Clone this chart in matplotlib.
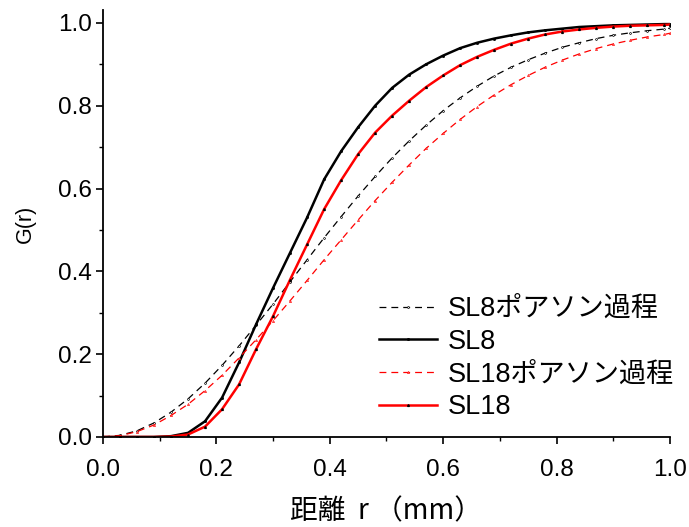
import numpy as np
import matplotlib
matplotlib.use("Agg")
import matplotlib.pyplot as plt
from matplotlib.ticker import MultipleLocator, FormatStrFormatter

plt.rcParams['font.family'] = ['Liberation Sans', 'Noto Sans CJK JP', 'DejaVu Sans']

# distance r (mm), sampled every 0.03 mm plus the end point
r = [0.00, 0.03, 0.06, 0.09, 0.12, 0.15, 0.18, 0.21, 0.24, 0.27, 0.30,
     0.33, 0.36, 0.39, 0.42, 0.45, 0.48, 0.51, 0.54, 0.57, 0.60, 0.63,
     0.66, 0.69, 0.72, 0.75, 0.78, 0.81, 0.84, 0.87, 0.90, 0.93, 0.96,
     0.99, 1.00]

sl8_poisson = [0.000, 0.004, 0.015, 0.034, 0.060, 0.092, 0.130, 0.173, 0.220,
               0.270, 0.321, 0.375, 0.428, 0.481, 0.532, 0.582, 0.629, 0.674,
               0.715, 0.753, 0.788, 0.819, 0.847, 0.872, 0.893, 0.911, 0.927,
               0.941, 0.952, 0.962, 0.970, 0.976, 0.981, 0.985, 0.987]

sl8 = [0.000, 0.000, 0.000, 0.000, 0.002, 0.010, 0.038, 0.095, 0.180, 0.272,
       0.360, 0.445, 0.530, 0.622, 0.690, 0.748, 0.800, 0.843, 0.875, 0.900,
       0.921, 0.939, 0.952, 0.962, 0.970, 0.977, 0.982, 0.986, 0.990, 0.992,
       0.994, 0.995, 0.996, 0.997, 0.997]

sl18_poisson = [0.000, 0.003, 0.013, 0.029, 0.052, 0.079, 0.112, 0.149, 0.191,
                0.235, 0.281, 0.329, 0.378, 0.428, 0.476, 0.524, 0.571, 0.615,
                0.657, 0.697, 0.733, 0.767, 0.798, 0.826, 0.851, 0.873, 0.893,
                0.910, 0.925, 0.938, 0.949, 0.958, 0.966, 0.972, 0.975]

sl18 = [0.000, 0.000, 0.000, 0.000, 0.001, 0.006, 0.025, 0.067, 0.127, 0.212,
        0.292, 0.380, 0.465, 0.550, 0.620, 0.683, 0.735, 0.776, 0.812, 0.845,
        0.873, 0.898, 0.918, 0.935, 0.950, 0.962, 0.972, 0.979, 0.984, 0.988,
        0.991, 0.993, 0.994, 0.995, 0.996]

labels = ["SL8ポアソン過程", "SL8", "SL18ポアソン過程", "SL18"]

fig = plt.figure(figsize=(6.89, 5.27), dpi=100)
ax = fig.add_axes([0.1495, 0.1708, 0.8229, 0.8102])

dash = (0, (5.5, 4))
ax.plot(r, sl8_poisson, color="black", lw=0.9, ls=dash,
        marker="o", ms=1.3, mfc="white", mew=0.5, label=labels[0])
ax.plot(r, sl8, color="black", lw=1.8, ls="-",
        marker="s", ms=1.0, label=labels[1])
ax.plot(r, sl18_poisson, color="red", lw=0.9, ls=dash,
        marker="^", ms=1.5, mfc="white", mew=0.5, label=labels[2])
ax.plot(r, sl18, color="red", lw=1.8, ls="-",
        marker="^", ms=1.3, mfc="black", mec="black", label=labels[3])

ax.set_xlim(0, 1.0)
ax.set_ylim(0, 1.031)
ax.xaxis.set_major_locator(MultipleLocator(0.2))
ax.xaxis.set_minor_locator(MultipleLocator(0.1))
ax.yaxis.set_major_locator(MultipleLocator(0.2))
ax.yaxis.set_minor_locator(MultipleLocator(0.1))
ax.xaxis.set_major_formatter(FormatStrFormatter("%.1f"))
ax.yaxis.set_major_formatter(FormatStrFormatter("%.1f"))

for side in ("top", "right"):
    ax.spines[side].set_visible(False)
for side in ("left", "bottom"):
    ax.spines[side].set_linewidth(1.3)

ax.tick_params(which="major", direction="out", length=5, width=1.2,
               labelsize=17.5)
ax.tick_params(axis="x", which="major", pad=11)
ax.tick_params(axis="y", which="major", pad=3)
ax.tick_params(which="minor", direction="out", length=3, width=1.0)

ax.set_ylabel("G(r)", fontsize=15.5, labelpad=16)
ax.set_xlabel("距離  r （mm）", fontsize=20, labelpad=11,
              family=['Noto Sans CJK JP', 'DejaVu Sans'])

leg = ax.legend(loc="upper left", bbox_to_anchor=(0.487, 0.33), frameon=False,
                handlelength=2.15, handletextpad=0.4,
                labelspacing=0.25, borderaxespad=0, borderpad=0,
                prop={'family': ['Liberation Sans', 'Noto Sans CJK JP'], 'size': 19.5})

fig.savefig("out.png", dpi=100)
